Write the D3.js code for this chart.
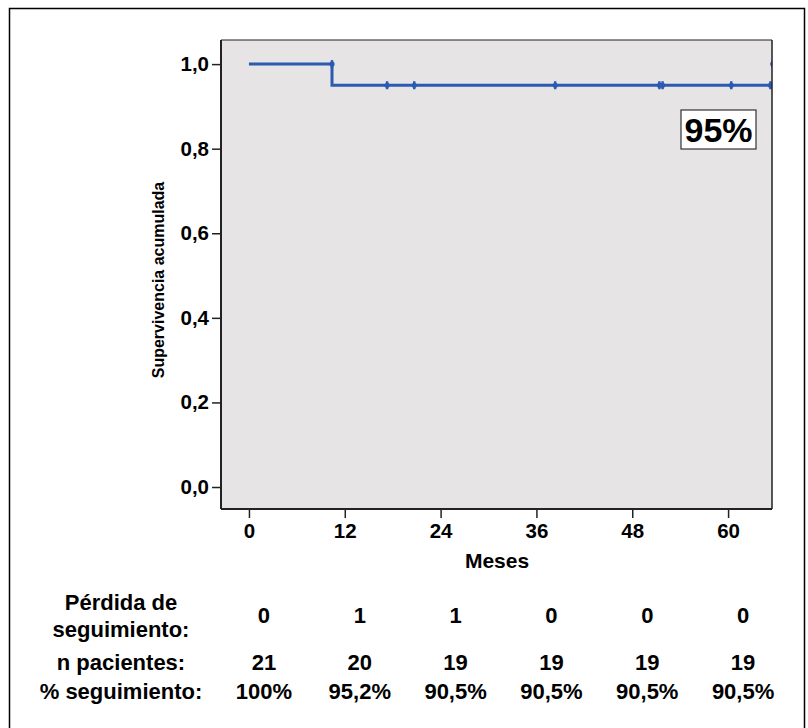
<!DOCTYPE html>
<html>
<head>
<meta charset="utf-8">
<script src="https://cdn.jsdelivr.net/npm/d3@7"></script>
<style>
  body { margin: 0; background: #fff; }
  text { font-family: Arial, "Liberation Sans", sans-serif; font-weight: bold; fill: #000; }
  .narrow { font-family: "Liberation Sans Narrow", "Arial Narrow", Arial, sans-serif; }
</style>
</head>
<body>
<svg id="chart" width="808" height="728"></svg>
<script>
// data
const stepTimes = [0, 10.4];          // months where the curve changes
const stepSurv = [1.0, 0.95];         // survival from that time on
const curveEnd = 65.5;
const censorTimes = [10.4, 17.3, 20.7, 38.35, 51.4, 51.8, 60.4, 65.3, 65.6];
const censorSurv = [1.0, 0.95, 0.95, 0.95, 0.95, 0.95, 0.95, 0.95, 1.0];
const xTicks = [0, 12, 24, 36, 48, 60];
const yTicks = [0, 0.2, 0.4, 0.6, 0.8, 1.0];
const perdida = ["0", "1", "1", "0", "0", "0"];
const nPacientes = ["21", "20", "19", "19", "19", "19"];
const pctSeguimiento = ["100%", "95,2%", "90,5%", "90,5%", "90,5%", "90,5%"];

const svg = d3.select("#chart")
var margin = {top: 40, right: 36, bottom: 219, left: 221},
    width = 808 - margin.left - margin.right,
    height = 728 - margin.top - margin.bottom;

// outer frame
svg.append("rect")
   .attr("x", 9.5).attr("y", 8.5)
   .attr("width", 795).attr("height", 730)
   .attr("fill", "none")
   .attr("stroke", "#000")
   .attr("stroke-width", 1.5)

const g = svg.append("g")
             .attr("transform", "translate(" + margin.left + "," + margin.top + ")")

const x = d3.scaleLinear().domain([-3.5, 65.5]).range([0, width])
const y = d3.scaleLinear().domain([-0.052, 1.057]).range([height, 0])

// plot background
g.append("rect")
 .attr("width", width)
 .attr("height", height)
 .attr("fill", "#e6e4e5")

g.append("clipPath").attr("id", "clip")
 .append("rect").attr("width", width).attr("height", height)

// survival curve
const pts = stepTimes.map((t, i) => [t, stepSurv[i]])
pts.push([curveEnd, stepSurv[stepSurv.length - 1]])
const line = d3.line().x(d => x(d[0])).y(d => y(d[1])).curve(d3.curveStepAfter)

const curveG = g.append("g").attr("clip-path", "url(#clip)")
curveG.append("path")
      .datum(pts)
      .attr("d", line)
      .attr("fill", "none")
      .attr("stroke", "#2b5bb0")
      .attr("stroke-width", 3)

// censor marks
const cens = curveG.selectAll("g.cens")
  .data(censorTimes.map((t, i) => [t, censorSurv[i]]))
  .enter().append("g")
  .attr("transform", d => "translate(" + x(d[0]) + "," + y(d[1]) + ")")
cens.append("line")
    .attr("y1", -4).attr("y2", 4)
    .attr("stroke", "#2b5bb0").attr("stroke-width", 2.5)
cens.append("circle")
    .attr("r", 2.6)
    .attr("fill", "#2b5bb0")

// frame lines of the plot
g.append("line").attr("x1", 0).attr("x2", width).attr("y1", 0).attr("y2", 0)
 .attr("stroke", "#222").attr("stroke-width", 1)
g.append("line").attr("x1", width).attr("x2", width).attr("y1", 0).attr("y2", height)
 .attr("stroke", "#222").attr("stroke-width", 1.5)

// axes
const yAxis = g.append("g")
  .call(d3.axisLeft(y).tickValues(yTicks).tickSize(9).tickPadding(3)
          .tickFormat(d => d3.format(".1f")(d).replace(".", ",")))
const xAxis = g.append("g")
  .attr("transform", "translate(0," + height + ")")
  .call(d3.axisBottom(x).tickValues(xTicks).tickSize(9).tickPadding(5))
;[yAxis, xAxis].forEach(a => {
  a.attr("font-size", 20.5).attr("font-family", null)
  a.select(".domain").attr("stroke", "#222").attr("stroke-width", 2)
  a.selectAll(".tick line").attr("stroke", "#222").attr("stroke-width", 1.5)
  a.selectAll(".tick text").style("font-size", "20.5px").attr("fill", "#000")
})
yAxis.select(".domain").attr("d", "M0,0V" + height)
xAxis.select(".domain").attr("d", "M0,0H" + width)

// axis titles
svg.append("text")
   .attr("class", "narrow")
   .attr("transform", "translate(164,280) rotate(-90)")
   .attr("text-anchor", "middle")
   .style("font-size", "16px")
   .text("Supervivencia acumulada")

svg.append("text")
   .attr("x", 497).attr("y", 568)
   .attr("text-anchor", "middle")
   .style("font-size", "21px")
   .text("Meses")

// 95% box
const box = g.append("g").attr("transform", "translate(" + (681 - margin.left) + "," + (110 - margin.top) + ")")
box.append("rect")
   .attr("width", 75).attr("height", 39)
   .attr("fill", "#fff").attr("stroke", "#333").attr("stroke-width", 1.2)
box.append("text")
   .attr("x", 37.5).attr("y", 32)
   .attr("text-anchor", "middle")
   .style("font-size", "34px")
   .text("95%")

// table below
const colX = d => margin.left + x(d) + 15
const tbl = svg.append("g")
const rows = [
  {vals: perdida, y: 623},
  {vals: nPacientes, y: 670},
  {vals: pctSeguimiento, y: 699}
]
rows.forEach(r => {
  tbl.selectAll(null)
     .data(r.vals)
     .enter().append("text")
     .attr("class", "narrow")
     .attr("x", (d, i) => colX(xTicks[i]))
     .attr("y", r.y)
     .attr("text-anchor", "middle")
     .style("font-size", "22px")
     .text(d => d)
})
const labels = [["Pérdida de", 610], ["seguimiento:", 637], ["n pacientes:", 670], ["% seguimiento:", 699]]
labels.forEach(l => {
  tbl.append("text")
     .attr("class", "narrow")
     .attr("x", 121).attr("y", l[1])
     .attr("text-anchor", "middle")
     .style("font-size", "22px")
     .text(l[0])
})
</script>
</body>
</html>
